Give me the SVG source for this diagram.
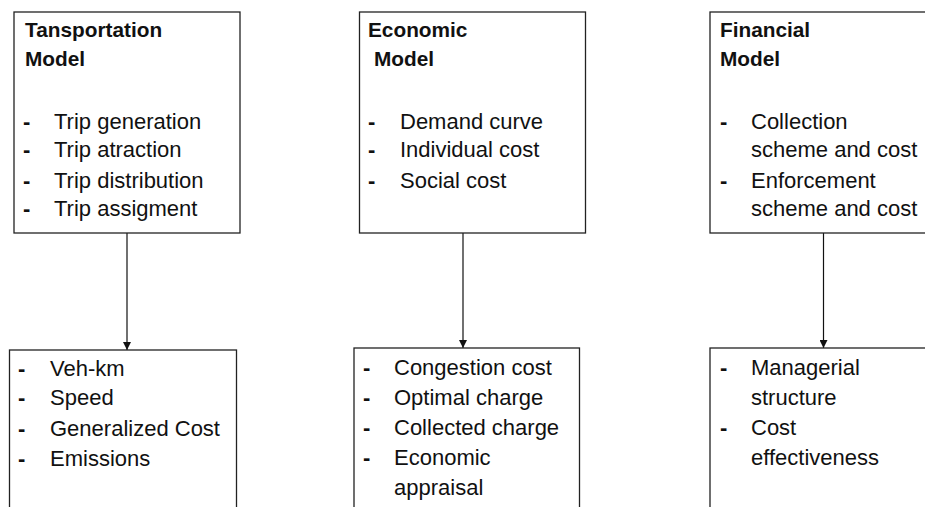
<svg xmlns="http://www.w3.org/2000/svg" width="925" height="507" viewBox="0 0 925 507">
<style>
.box{fill:#fff;stroke:#222;stroke-width:1.3}
text{font-family:"Liberation Sans",Arial,sans-serif;font-size:22px;fill:#111}
.t{font-weight:bold;font-size:20.8px}
.d{font-weight:bold}
.c{stroke:#111;stroke-width:1.2;fill:none}
</style>
<defs>
<marker id="ah" viewBox="0 0 10 10" refX="10" refY="5" markerWidth="8" markerHeight="8" markerUnits="userSpaceOnUse" orient="auto">
<path d="M0,0 L10,5 L0,10 z" fill="#111"/>
</marker>
</defs>
<rect width="925" height="507" fill="#fff"/>
<g id="connectors">
<line class="c" x1="127" y1="233" x2="127" y2="350" marker-end="url(#ah)"/>
<line class="c" x1="463" y1="233" x2="463" y2="348" marker-end="url(#ah)"/>
<line class="c" x1="823.5" y1="233" x2="823.5" y2="348" marker-end="url(#ah)"/>
</g>
<g id="transport">
<rect class="box" x="14" y="12" width="226" height="221"/>
<text class="t" x="25" y="37">Tansportation</text>
<text class="t" x="25" y="66">Model</text>
<text class="d" x="23" y="129">-</text><text x="54" y="129">Trip generation</text>
<text class="d" x="23" y="157">-</text><text x="54" y="157">Trip atraction</text>
<text class="d" x="23" y="188">-</text><text x="54" y="188">Trip distribution</text>
<text class="d" x="23" y="216">-</text><text x="54" y="216">Trip assigment</text>
</g>
<g id="economic">
<rect class="box" x="359.5" y="12" width="226" height="221"/>
<text class="t" x="368" y="37">Economic</text>
<text class="t" x="374" y="66">Model</text>
<text class="d" x="368" y="129">-</text><text x="400" y="129">Demand curve</text>
<text class="d" x="368" y="157">-</text><text x="400" y="157">Individual cost</text>
<text class="d" x="368" y="188">-</text><text x="400" y="188">Social cost</text>
</g>
<g id="financial">
<rect class="box" x="710" y="12" width="230" height="221"/>
<text class="t" x="720" y="37">Financial</text>
<text class="t" x="720" y="66">Model</text>
<text class="d" x="720" y="129">-</text><text x="751" y="129">Collection</text>
<text x="751" y="157">scheme and cost</text>
<text class="d" x="720" y="188">-</text><text x="751" y="188">Enforcement</text>
<text x="751" y="216">scheme and cost</text>
</g>
<g id="transport-out">
<rect class="box" x="9.5" y="350" width="227" height="170"/>
<text class="d" x="18" y="376">-</text><text x="50" y="376">Veh-km</text>
<text class="d" x="18" y="405">-</text><text x="50" y="405">Speed</text>
<text class="d" x="18" y="436">-</text><text x="50" y="436">Generalized Cost</text>
<text class="d" x="18" y="466">-</text><text x="50" y="466">Emissions</text>
</g>
<g id="economic-out">
<rect class="box" x="354" y="348" width="225.5" height="172"/>
<text class="d" x="363" y="375">-</text><text x="394" y="375">Congestion cost</text>
<text class="d" x="363" y="405">-</text><text x="394" y="405">Optimal charge</text>
<text class="d" x="363" y="435">-</text><text x="394" y="435">Collected charge</text>
<text class="d" x="363" y="465">-</text><text x="394" y="465">Economic</text>
<text x="394" y="495">appraisal</text>
</g>
<g id="financial-out">
<rect class="box" x="710" y="348" width="230" height="172"/>
<text class="d" x="720" y="375">-</text><text x="751" y="375">Managerial</text>
<text x="751" y="405">structure</text>
<text class="d" x="720" y="435">-</text><text x="751" y="435">Cost</text>
<text x="751" y="465">effectiveness</text>
</g>
</svg>
